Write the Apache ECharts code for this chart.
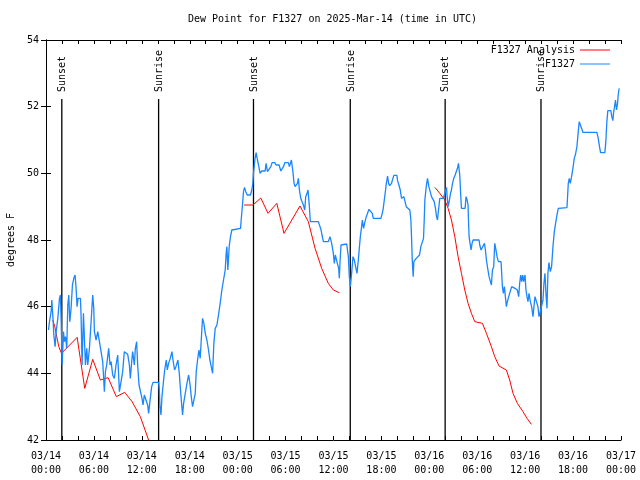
<!DOCTYPE html>
<html><head><meta charset="utf-8">
<script src="https://cdn.jsdelivr.net/npm/echarts@6/dist/echarts.min.js"></script>
<style>html,body{margin:0;padding:0;background:#fff}#c{width:640px;height:480px}</style>
</head><body><div id="c"></div>
<script>
// hours since 03/14 00:00 UTC, dew point (F)
const f1327 = [
[0.31,45.30],[0.44,45.55],[0.64,45.85],[0.73,46.20],[0.85,45.75],[0.98,45.15],[1.14,44.80],[1.27,45.25],[1.48,45.65],[1.69,46.25],[1.81,46.35],[1.89,45.65],[2.02,44.25],[2.19,45.25],[2.31,44.95],[2.44,45.10],[2.60,44.75],[2.73,46.05],[2.85,46.35],[2.98,45.55],[3.14,45.95],[3.31,46.65],[3.48,46.85],[3.64,46.95],[3.77,46.55],[3.89,46.00],[4.02,46.25],[4.31,46.25],[4.39,45.75],[4.52,44.25],[4.69,45.80],[4.85,45.80],[4.94,44.25],[5.10,44.75],[5.23,44.25],[5.44,44.75],[5.64,44.75],[5.85,46.35],[5.98,45.95],[6.06,45.25],[6.27,45.00],[6.48,45.25],[6.69,44.95],[6.90,44.90],[7.10,44.35],[7.31,43.45],[7.44,44.05],[7.60,44.25],[7.85,44.75],[8.02,44.25],[8.15,44.35],[8.35,43.95],[8.56,43.85],[8.77,44.25],[8.98,44.55],[9.19,43.45],[9.40,43.75],[9.60,44.05],[9.81,44.65],[10.23,44.57],[10.44,44.25],[10.56,43.85],[10.73,44.35],[10.85,44.65],[11.06,44.25],[11.19,44.75],[11.35,44.95],[11.48,44.25],[11.65,43.65],[11.81,43.70],[12.02,43.25],[12.15,43.05],[12.31,43.35],[12.52,43.35],[12.73,43.05],[12.85,42.80],[13.06,43.25],[13.23,43.60],[13.40,43.73],[14.10,43.73],
[14.19,43.50],[14.27,43.00],[14.40,42.75],[14.52,43.30],[14.73,43.80],[14.86,44.10],[15.06,44.40],[15.19,44.10],[15.35,44.30],[15.56,44.45],[15.77,44.65],[15.90,44.40],[16.10,44.10],[16.27,44.20],[16.52,44.40],[16.69,44.00],[16.81,43.60],[16.94,43.20],[17.10,42.75],[17.23,43.10],[17.44,43.40],[17.65,43.70],[17.86,43.95],[18.02,43.70],[18.19,43.30],[18.35,43.00],[18.52,43.00],[18.69,43.40],[18.81,44.05],[18.98,44.40],[19.15,44.70],[19.31,44.45],[19.44,45.00],[19.60,45.65],[19.77,45.50],[19.94,45.20],[20.15,45.00],[20.35,44.70],[20.52,44.40],[20.69,44.20],[20.86,44.00],[21.02,44.90],[21.19,45.35],[21.40,45.45],[21.60,45.75],[21.81,46.10],[22.02,46.50],[22.23,46.80],[22.44,47.10],[22.56,47.60],[22.65,47.80],[22.77,47.10],[22.94,47.80],[23.10,48.10],[23.27,48.30],[23.40,48.35],[24.36,48.35],[24.44,48.60],[24.60,49.05],[24.73,49.45],[24.86,49.58],[25.02,49.45],[25.19,49.35],[25.60,49.35],[25.77,49.50],[25.90,49.70],
[25.98,50.00],[26.15,50.40],[26.31,50.62],[26.48,50.40],[26.65,50.20],[26.81,50.00],[27.02,50.07],[27.44,50.07],[27.56,50.30],[27.73,50.05],[27.90,50.00],[28.15,50.20],[28.31,50.32],[28.65,50.32],[28.81,50.25],[28.98,50.30],[29.19,50.25],[29.40,50.07],[29.60,50.07],[29.73,50.20],[29.90,50.32],[30.35,50.32],[30.48,50.20],[30.60,50.20],[30.73,50.40],[30.85,50.42],[30.94,50.00],[31.06,49.70],[31.19,49.60],[31.40,49.60],[31.48,49.70],[31.60,49.85],[31.73,49.50],[31.90,49.25],[32.06,49.15],[32.23,49.05],[32.40,48.90],[32.52,49.30],[32.69,49.40],[32.81,49.50],[32.98,49.00],[33.10,48.55],[33.69,48.55],[33.90,48.60],[34.10,48.55],[34.31,48.40],[34.44,48.30],[34.56,48.15],[34.73,47.95],[35.35,47.95],[35.56,48.10],[35.77,47.90],[35.98,47.60],[36.10,47.30],[36.23,47.55],[36.31,47.55],[36.48,47.30],[36.65,47.15],[36.73,46.85],[36.81,47.30],[36.94,47.85],[37.06,47.88],[37.65,47.88],
[37.86,47.50],[37.98,46.90],[38.11,46.60],[38.27,47.00],[38.44,47.50],[38.61,47.40],[38.77,47.20],[38.94,47.00],[39.11,47.40],[39.23,47.75],[39.36,48.10],[39.52,48.40],[39.61,48.60],[39.77,48.35],[39.94,48.55],[40.11,48.70],[40.27,48.75],[40.44,48.92],[40.69,48.92],[40.86,48.80],[40.98,48.65],[41.94,48.65],[42.11,48.80],[42.23,48.95],[42.36,49.20],[42.52,49.50],[42.61,49.70],[42.69,49.80],[42.77,49.92],[42.90,49.70],[43.02,49.63],[43.27,49.70],[43.40,49.82],[43.56,49.94],[43.94,49.94],[44.02,49.78],[44.19,49.65],[44.36,49.50],[44.52,49.25],[44.65,49.20],[44.81,49.30],[44.94,49.30],[45.11,49.00],[45.36,49.00],[45.56,48.90],[45.69,48.60],[45.77,48.10],[45.86,47.40],[45.98,46.90],[46.06,47.35],[46.19,47.30],[46.36,47.45],[46.61,47.45],[46.77,47.55],[46.94,47.80],[47.11,47.85],[47.27,48.05],[47.36,48.60],[47.44,49.20],[47.61,49.60],[47.77,49.85],[47.94,49.60],[48.11,49.45],[48.27,49.30],[48.44,49.25],[48.61,49.15],[48.77,48.95],[48.90,48.70],[49.02,48.60],[49.15,48.90],[49.31,49.25],[49.52,49.30],
[49.73,49.25],[49.94,49.40],[50.06,49.50],[50.15,49.58],[50.23,49.30],[50.35,49.00],[50.48,49.15],[50.65,49.40],[50.77,49.50],[50.90,49.70],[51.06,49.85],[51.23,49.95],[51.40,50.00],[51.52,50.15],[51.65,50.30],[51.81,49.95],[51.94,49.30],[52.02,48.95],[52.48,48.95],[52.60,49.30],[52.73,49.20],[52.85,49.05],[52.90,48.60],[52.98,48.10],[53.10,47.90],[53.23,47.70],[53.35,47.90],[53.48,48.00],[54.23,48.00],[54.31,47.85],[54.48,47.70],[54.73,47.70],[54.90,47.90],[55.02,47.70],[55.15,47.40],[55.27,47.20],[55.48,46.90],[55.65,46.75],[55.77,46.65],[55.90,47.10],[56.06,47.20],[56.19,47.90],[56.31,47.75],[56.48,47.50],[56.65,47.35],[56.98,47.35],[57.06,47.00],[57.15,46.60],[57.27,46.40],[57.40,46.60],[57.52,46.30],[57.65,46.00],[57.77,46.15],[57.94,46.30],[58.19,46.35],[58.31,46.60],[58.56,46.60],[58.73,46.55],[58.90,46.60],[59.02,46.50],[59.19,46.30],[59.31,46.70],[59.44,46.95],[59.56,46.75],[59.69,46.95],[59.81,46.75],[59.98,46.95],[60.10,46.50],[60.23,46.30],[60.35,46.15],[60.48,46.40],[60.65,46.15],[60.81,46.00],[60.98,45.70],[61.10,46.00],[61.23,46.30],[61.48,46.30],[61.60,46.00],[61.73,45.70],[61.85,45.80],[61.94,45.90],
[62.23,46.20],[62.35,46.70],[62.48,47.00],[62.60,46.40],[62.73,45.95],[62.85,47.00],[62.98,47.32],[63.15,47.05],[63.31,47.20],[63.48,47.80],[63.65,48.25],[63.81,48.50],[63.98,48.75],[64.15,48.95],[64.23,48.97],[65.23,48.97],[65.31,49.30],[65.40,49.70],[65.52,49.85],[65.65,49.70],[65.81,49.90],[65.98,50.15],[66.15,50.45],[66.31,50.58],[66.48,50.80],[66.65,51.25],[66.77,51.55],[66.94,51.55],[67.06,51.35],[67.23,51.23],[68.98,51.23],[69.15,51.05],[69.31,50.80],[69.44,50.62],[69.98,50.62],[70.10,50.95],[70.23,51.55],[70.35,51.88],[70.73,51.88],[70.85,51.70],[70.98,51.58],[71.06,51.80],[71.19,52.00],[71.31,52.20],[71.44,51.90],[71.56,52.08],[71.65,52.35],[71.77,52.55]
];
// analysis: null entries separate the three runs
const analysisHours = [0.85,1.10,1.31,1.60,1.94,3.90,4.85,5.85,6.81,7.78,8.81,9.85,10.78,11.81,12.85,13.10, 18,
  24.80,25.90,26.90,27.80,28.90,29.80,31.80,32.85,33.69,34.52,35.35,35.98,36.73, 42,
  48.69,49.31,49.94,50.35,50.77,51.19,51.60,52.02,52.44,52.85,53.27,53.69,54.65,55.15,55.77,56.19,56.73,57.65,58.06,58.48,59.02,59.73,60.23,60.77];
const analysisDew = [45.60,45.40,45.15,44.80,44.60,45.08,43.55,44.42,43.80,43.87,43.30,43.43,43.15,42.70,42.00,41.75, null,
  49.05,49.05,49.26,48.80,49.10,48.20,49.02,48.55,47.75,47.15,46.70,46.50,46.42, null,
  49.58,49.40,49.20,48.95,48.60,48.10,47.50,47.00,46.50,46.10,45.80,45.55,45.50,45.20,44.80,44.50,44.22,44.10,43.80,43.40,43.10,42.85,42.65,42.47];
const eventHours = [1.98, 14.1, 25.98, 38.1, 49.98, 61.98];
const eventNames = ['Sunset','Sunrise','Sunset','Sunrise','Sunset','Sunrise'];
const seriesNames = ['F1327 Analysis', 'F1327'];
const titleText = 'Dew Point for F1327 on 2025-Mar-14 (time in UTC)';

const FONT = '"DejaVu Sans Mono", "Liberation Mono", monospace';
const txt = {fontFamily: FONT, fontSize: 10, color: '#000'};

function xLabel(v) {
  if (v % 6 !== 0) return '';
  const day = 14 + Math.floor(v / 24);
  const hh = v % 24;
  return '03/' + day + '\n' + (hh < 10 ? '0' : '') + hh + ':00';
}

const chart = echarts.init(document.getElementById('c'), null, {renderer: 'canvas'});
chart.setOption({
  animation: false,
  backgroundColor: '#fff',
  title: {text: titleText, left: 188, top: 14, padding: 0,
    textStyle: Object.assign({}, txt, {fontWeight: 'normal'})},
  legend: {
    data: seriesNames, orient: 'vertical', right: 30, top: 44, padding: 0,
    align: 'right', itemWidth: 30, itemHeight: 1, itemGap: 2, icon: 'rect',
    textStyle: Object.assign({}, txt, {lineHeight: 12})
  },
  grid: {left: 46, right: 19, top: 40, bottom: 40, containLabel: false, outerBoundsMode: 'none'},
  xAxis: [
    {type: 'value', min: 0, max: 72, interval: 2, position: 'bottom',
     axisLine: {lineStyle: {color: '#000', width: 1}},
     axisTick: {inside: true, length: 4, lineStyle: {color: '#000'}},
     axisLabel: Object.assign({}, txt, {formatter: xLabel, margin: 9, lineHeight: 14, showMinLabel: true, showMaxLabel: true}),
     splitLine: {show: false}},
    {type: 'value', min: 0, max: 72, interval: 2, position: 'top',
     axisLine: {lineStyle: {color: '#000', width: 1}},
     axisTick: {inside: true, length: 4, lineStyle: {color: '#000'}},
     axisLabel: {show: false}, splitLine: {show: false}}
  ],
  yAxis: [
    {type: 'value', min: 42, max: 54, interval: 2, position: 'left',
     name: 'degrees F', nameLocation: 'middle', nameGap: 30, nameTextStyle: txt,
     axisLine: {show: true, lineStyle: {color: '#000', width: 1}},
     axisTick: {show: true, inside: true, length: 5, lineStyle: {color: '#000'}},
     axisLabel: Object.assign({}, txt, {margin: 7}),
     splitLine: {show: false}},
    {type: 'value', min: 42, max: 54, interval: 2, position: 'right',
     axisLine: {show: true, lineStyle: {color: '#000', width: 1}},
     axisTick: {show: true, inside: true, length: 5, lineStyle: {color: '#000'}},
     axisLabel: {show: false}, splitLine: {show: false}}
  ],
  series: [
    {type: 'custom', name: 'events', xAxisIndex: 0, yAxisIndex: 0, silent: true,
     data: eventHours.map(h => [h, 42]),
     renderItem: function (params, api) {
       const h = api.value(0);
       const b = api.coord([h, 42]);
       const t = api.coord([h, 52.23]);
       const tp = api.coord([h, 52.44]);
       return {type: 'group', children: [
         {type: 'line', shape: {x1: b[0], y1: b[1], x2: t[0], y2: t[1]},
          style: {stroke: '#000', lineWidth: 1.3}},
         {type: 'text', x: tp[0] + 0.7, y: tp[1], rotation: Math.PI / 2,
          style: {text: eventNames[params.dataIndex], fill: '#000',
            font: '10px ' + FONT, align: 'left', verticalAlign: 'middle'}}
       ]};
     }},
    {type: 'line', name: seriesNames[0], xAxisIndex: 0, yAxisIndex: 0,
     data: analysisHours.map((h, i) => [h, analysisDew[i] === null ? '-' : analysisDew[i]]),
     symbol: 'none', connectNulls: false, clip: true,
     lineStyle: {color: '#ff0000', width: 1}, itemStyle: {color: '#ff0000'}},
    {type: 'line', name: seriesNames[1], xAxisIndex: 0, yAxisIndex: 0,
     data: f1327, symbol: 'none', clip: true,
     lineStyle: {color: '#1a86ff', width: 1.3}, itemStyle: {color: '#1a86ff'}}
  ]
});
</script></body></html>
